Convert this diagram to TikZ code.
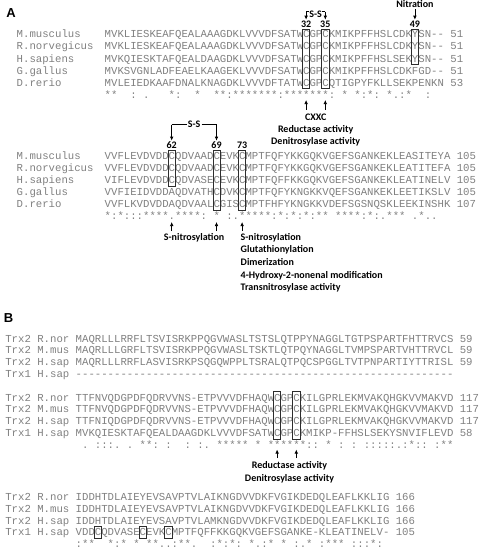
\documentclass[tikz,border=0pt]{standalone}
\usepackage{fontspec}
\setmonofont{Liberation Mono}
\newfontfamily\annfont{Carlito}
\newfontfamily\panelfont{Liberation Sans}
\usetikzlibrary{arrows.meta}
\definecolor{seqgray}{RGB}{128,128,128}
\definecolor{boxcol}{RGB}{45,45,45}
\tikzset{
  seq/.style={font=\ttfamily\fontsize{10.67}{12}\selectfont, text=seqgray, inner sep=0pt, anchor=base west},
  ann/.style={font=\annfont\bfseries\fontsize{10}{12}\selectfont, inner sep=1pt},
  annl/.style={ann, anchor=west},
  panel/.style={font=\panelfont\bfseries\fontsize{13}{15}\selectfont, inner sep=0pt},
  colbox/.style={draw=boxcol, line width=0.8pt},
  arr/.style={-{Latex[length=4pt,width=3.6pt]}, line width=0.7pt},
  brk/.style={line width=0.7pt},
}
\begin{document}
\begin{tikzpicture}[x=1pt,y=-1pt]
\useasboundingbox (0,0) rectangle (480,549);
% ---------------- Panel A ----------------
\node[panel] (pA) at (11,13.5) {A};
% block A1
\node[seq] (a1n1) at (16.5,37.8) {M.musculus};
\node[seq] (a1n2) at (16.5,49.9) {R.norvegicus};
\node[seq] (a1n3) at (16.5,62.0) {H.sapiens};
\node[seq] (a1n4) at (16.5,74.1) {G.gallus};
\node[seq] (a1n5) at (16.5,86.2) {D.rerio};
\node[seq] (a1s1) at (104.5,37.8) {MVKLIESKEAFQEALAAAGDKLVVVDFSATWCGPCKMIKPFFHSLCDKYSN--~51};
\node[seq] (a1s2) at (104.5,49.9) {MVKLIESKEAFQEALAAAGDKLVVVDFSATWCGPCKMIKPFFHSLCDKYSN--~51};
\node[seq] (a1s3) at (104.5,62.0) {MVKQIESKTAFQEALDAAGDKLVVVDFSATWCGPCKMIKPFFHSLSEKYSN--~51};
\node[seq] (a1s4) at (104.5,74.1) {MVKSVGNLADFEAELKAAGEKLVVVDFSATWCGPCKMIKPFFHSLCDKFGD--~51};
\node[seq] (a1s5) at (104.5,86.2) {MVLEIEDKAAFDNALKNAGDKLVVVDFTATWCGPCQTIGPYFKLLSEKPENKN~53};
\node[seq] (a1c) at (104.5,98.3) {**~~:~.~~~*:~~*~~**:*******:*******:~*~*:*:~*.:*~~:};
\draw[colbox] (302.5,29.2) rectangle (309.7,88.7);
\draw[colbox] (321.7,29.2) rectangle (328.9,88.7);
\draw[colbox] (411.3,29.2) rectangle (418.5,64.5);
% labels above A1
\node[ann] (nit) at (414.9,4.5) {Nitration};
\node[ann] (n32) at (306.1,24.2) {32};
\node[ann] (n35) at (325.3,24.2) {35};
\node[ann] (n49) at (414.9,24.2) {49};
\node[ann, inner sep=0pt] (ss1) at (315.7,14.5) {S-S};
\coordinate (b1l) at (306.1,11.5);
\coordinate (b1r) at (325.3,11.5);
\draw[brk] (b1l) -- (309.2,11.5);
\draw[brk] (322.3,11.5) -- (b1r);
\draw[arr] (b1l) -- (n32.north);
\draw[arr] (b1r) -- (n35.north);
\draw[arr] (nit.south) -- (n49.north);
% annotations below A1
\node[ann] (cxxc) at (315.7,117) {CXXC};
\node[ann] (red1) at (315.7,129.5) {Reductase activity};
\node[ann] (den1) at (315.7,142) {Denitrosylase activity};
\coordinate (u32t) at (306.1,109.5);
\coordinate (u32h) at (306.1,100);
\coordinate (u35t) at (325.3,109.5);
\coordinate (u35h) at (325.3,100);
\draw[arr] (u32t) -- (u32h);
\draw[arr] (u35t) -- (u35h);
% block A2
\node[seq] (a2n1) at (16.5,159.3) {M.musculus};
\node[seq] (a2n2) at (16.5,171.4) {R.norvegicus};
\node[seq] (a2n3) at (16.5,183.5) {H.sapiens};
\node[seq] (a2n4) at (16.5,195.6) {G.gallus};
\node[seq] (a2n5) at (16.5,207.7) {D.rerio};
\node[seq] (a2s1) at (104.5,159.3) {VVFLEVDVDDCQDVAADCEVKCMPTFQFYKKGQKVGEFSGANKEKLEASITEYA~105};
\node[seq] (a2s2) at (104.5,171.4) {VVFLEVDVDDCQDVAADCEVKCMPTFQFYKKGQKVGEFSGANKEKLEATITEFA~105};
\node[seq] (a2s3) at (104.5,183.5) {VIFLEVDVDDCQDVASECEVKCMPTFQFFKKGQKVGEFSGANKEKLEATINELV~105};
\node[seq] (a2s4) at (104.5,195.6) {VVFIEIDVDDAQDVATHCDVKCMPTFQFYKNGKKVQEFSGANKEKLEETIKSLV~105};
\node[seq] (a2s5) at (104.5,207.7) {VVFLKVDVDDAQDVAALCGISCMPTFHFYKNGKKVDEFSGSNQSKLEEKINSHK~107};
\node[seq] (a2c) at (104.5,219.8) {*:*:::****.****:~*~:.*****:*:*:*:**~****:*:.***~.*..};
\draw[colbox] (168.1,150.6) rectangle (175.3,186.0);
\draw[colbox] (212.9,150.6) rectangle (220.1,210.2);
\draw[colbox] (238.5,150.6) rectangle (245.7,210.2);
% labels above A2
\node[ann] (n62) at (171.7,145.3) {62};
\node[ann] (n69) at (216.5,145.3) {69};
\node[ann] (n73) at (242.1,145.3) {73};
\node[ann] (ss2) at (194.1,124.5) {S-S};
\coordinate (b2l) at (171.7,124.5);
\coordinate (b2r) at (216.5,124.5);
\draw[brk] (b2l) -- (ss2.west);
\draw[brk] (ss2.east) -- (b2r);
\draw[arr] (b2l) -- (n62.north);
\draw[arr] (b2r) -- (n69.north);
% annotations below A2
\coordinate (u62t) at (171.7,231);
\coordinate (u62h) at (171.7,222);
\coordinate (u69t) at (216.5,231);
\coordinate (u69h) at (216.5,222);
\coordinate (u73t) at (242.1,231);
\coordinate (u73h) at (242.1,222);
\draw[arr] (u62t) -- (u62h);
\draw[arr] (u69t) -- (u69h);
\draw[arr] (u73t) -- (u73h);
\node[ann] (sn1) at (194.1,237.5) {S-nitrosylation};
\node[annl] (sn2) at (239.5,237.5) {S-nitrosylation};
\node[annl] (glu) at (239.5,250) {Glutathionylation};
\node[annl] (dim) at (239.5,262.5) {Dimerization};
\node[annl] (hne) at (239.5,275.5) {4-Hydroxy-2-nonenal modification};
\node[annl] (trn) at (239.5,288) {Transnitrosylase activity};
% ---------------- Panel B ----------------
\node[panel] (pB) at (8.5,318.5) {B};
% block B1
\node[seq] (b1r1) at (5.1,342.1) {Trx2~R.nor~MAQRLLLRRFLTSVISRKPPQGVWASLTSTSLQTPPYNAGGLTGTPSPARTFHTTRVCS~59};
\node[seq] (b1r2) at (5.1,353.9) {Trx2~M.mus~MAQRLLLGRFLTSVISRKPPQGVWASLTSKTLQTPQYNAGGLTVMPSPARTVHTTRVCL~59};
\node[seq] (b1r3) at (5.1,365.7) {Trx2~H.sap~MAQRLLLRRFLASVISRKPSQGQWPPLTSRALQTPQCSPGGLTVTPNPARTIYTTRISL~59};
\node[seq] (b1r4) at (5.1,377.5) {Trx1~H.sap~-----------------------------------------------------------};
% block B2
\node[seq] (b2r1) at (5.1,401.1) {Trx2~R.nor~TTFNVQDGPDFQDRVVNS-ETPVVVDFHAQWCGPCKILGPRLEKMVAKQHGKVVMAKVD~117};
\node[seq] (b2r2) at (5.1,412.9) {Trx2~M.mus~TTFNVQDGPDFQDRVVNS-ETPVVVDFHAQWCGPCKILGPRLEKMVAKQHGKVVMAKVD~117};
\node[seq] (b2r3) at (5.1,424.7) {Trx2~H.sap~TTFNIQDGPDFQDRVVNS-ETPVVVDFHAQWCGPCKILGPRLEKMVAKQHGKVVMAKVD~117};
\node[seq] (b2r4) at (5.1,436.5) {Trx1~H.sap~MVKQIESKTAFQEALDAAGDKLVVVDFSATWCGPCKMIKP-FFHSLSEKYSNVIFLEVD~58};
\node[seq] (b2c) at (75.5,448.3) {~.~:::.~.~**:~:~~:~:.~*****~*~******::~*~:~:~:::::.:*::~:**};
\draw[colbox] (273.5,391.6) rectangle (280.7,439.0);
\draw[colbox] (292.7,391.6) rectangle (299.9,439.0);
\coordinate (v32t) at (277.1,458);
\coordinate (v32h) at (277.1,449.5);
\coordinate (v35t) at (296.3,458);
\coordinate (v35h) at (296.3,449.5);
\draw[arr] (v32t) -- (v32h);
\draw[arr] (v35t) -- (v35h);
\node[ann] (red2) at (289.5,465.5) {Reductase activity};
\node[ann] (den2) at (289.5,478.5) {Denitrosylase activity};
% block B3
\node[seq] (b3r1) at (5.1,500.5) {Trx2~R.nor~IDDHTDLAIEYEVSAVPTVLAIKNGDVVDKFVGIKDEDQLEAFLKKLIG~166};
\node[seq] (b3r2) at (5.1,512.3) {Trx2~M.mus~IDDHTDLAIEYEVSAVPTVLAIKNGDVVDKFVGIKDEDQLEAFLKKLIG~166};
\node[seq] (b3r3) at (5.1,524.1) {Trx2~H.sap~IDDHTDLAIEYEVSAVPTVLAMKNGDVVDKFVGIKDEDQLEAFLKKLIG~166};
\node[seq] (b3r4) at (5.1,535.9) {Trx1~H.sap~VDDCQDVASECEVKCMPTFQFFKKGQKVGEFSGANKE-KLEATINELV-~105};
\node[seq] (b3c) at (75.5,547.2) {:**~~*:*~*~**..:**.~~:*:*:~*.:*~*~:.*~:***~:::*:};
\draw[colbox] (94.3,526.4) rectangle (101.5,538.4);
\draw[colbox] (139.1,526.4) rectangle (146.3,538.4);
\draw[colbox] (164.7,526.4) rectangle (171.9,538.4);
\end{tikzpicture}
\end{document}
